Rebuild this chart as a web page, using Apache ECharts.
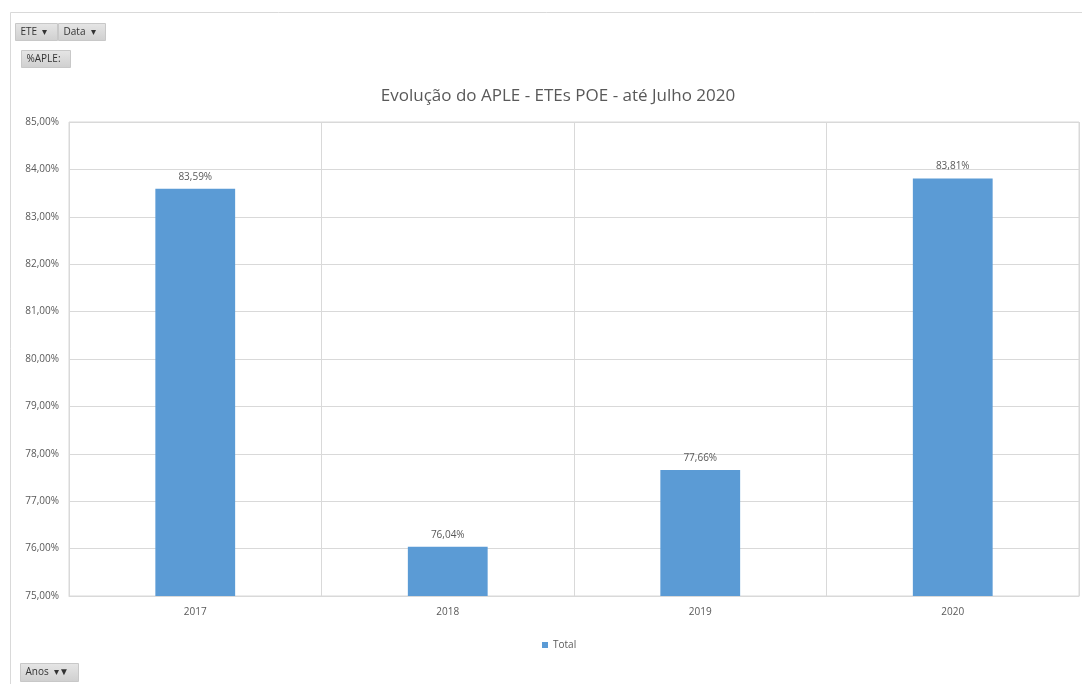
<!DOCTYPE html>
<html><head><meta charset="utf-8">
<script src="https://cdn.jsdelivr.net/npm/echarts@6/dist/echarts.min.js"></script>
<style>html,body{margin:0;padding:0;background:#fff}#c{width:1082px;height:684px}</style>
</head><body><div id="c"></div>
<script>
const titleText = 'Evolução do APLE - ETEs POE - até Julho 2020';
const categories = ['2017', '2018', '2019', '2020'];
const values = [83.59, 76.04, 77.66, 83.81];
const seriesName = 'Total';
const yMin = 75, yMax = 85, yStep = 1;

const fmt = v => v.toFixed(2).replace('.', ',') + '%';
const font = '"Open Sans", "Noto Sans", sans-serif';
const txt = '#595959';

function button(x, y, w, h, label) {
  return {
    type: 'group', left: x, top: y,
    children: [
      { type: 'rect', shape: { x: 0, y: 0, width: w, height: h },
        style: { fill: new echarts.graphic.LinearGradient(0, 0, 0, 1, [{offset:0,color:'#e6e6e6'},{offset:1,color:'#cfcfcf'}]), stroke: '#c8c8c8', lineWidth: 1 } },
      { type: 'text', x: 5, y: h / 2, style: { text: label, fill: '#333', font: '10px ' + font, verticalAlign: 'middle' } }
    ]
  };
}

const chart = echarts.init(document.getElementById('c'), null, { renderer: 'canvas' });
chart.setOption({
  animation: false,
  backgroundColor: '#fff',
  title: {
    text: titleText, left: 553, top: 83, textAlign: 'center',
    textStyle: { fontFamily: font, fontSize: 17, fontWeight: 'normal', color: txt }
  },
  legend: {
    data: [seriesName], left: 537, top: 635, itemWidth: 6, itemHeight: 6, icon: 'rect',
    textStyle: { fontFamily: font, fontSize: 10, color: txt }, itemGap: 4
  },
  grid: { left: 69, right: 3, top: 122, bottom: 88, show: true, borderColor: '#d9d9d9', borderWidth: 1 },
  xAxis: {
    type: 'category', data: categories,
    axisLine: { show: true, lineStyle: { color: '#d9d9d9' } },
    axisTick: { show: false },
    axisLabel: { fontFamily: font, fontSize: 10, color: txt, margin: 11 },
    splitLine: { show: true, lineStyle: { color: '#d9d9d9' } }
  },
  yAxis: {
    type: 'value', min: yMin, max: yMax, interval: yStep,
    axisLine: { show: false }, axisTick: { show: false },
    axisLabel: { fontFamily: font, fontSize: 10, color: txt, formatter: v => fmt(v), margin: 10 },
    splitLine: { lineStyle: { color: '#d9d9d9' } }
  },
  series: [{
    name: seriesName, type: 'bar', data: values, barWidth: '31.6%',
    itemStyle: { color: '#5B9BD5' },
    label: { show: true, position: 'top', distance: 7, formatter: p => fmt(p.value),
      fontFamily: font, fontSize: 10, color: txt }
  }],
  graphic: [
    { type: 'polyline', shape: { points: [[10.5, 684], [10.5, 12.5], [1082, 12.5]] },
      style: { stroke: '#d9d9d9', lineWidth: 1, fill: null } },
    button(15, 23, 42, 17, 'ETE  ▾'),
    button(58, 23, 47, 17, 'Data  ▾'),
    button(21, 50, 49, 17, '%APLE:'),
    button(20, 663, 58, 18, 'Anos  ▾▼')
  ]
});
</script></body></html>
